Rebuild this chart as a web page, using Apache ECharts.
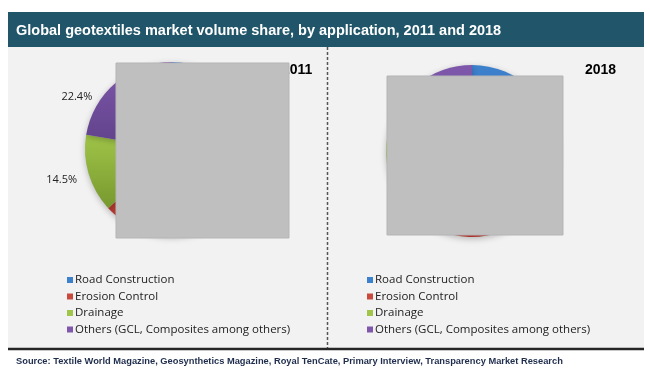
<!DOCTYPE html>
<html><head><meta charset="utf-8">
<script src="https://cdn.jsdelivr.net/npm/echarts@6/dist/echarts.min.js"></script>
<style>html,body{margin:0;padding:0;background:#fff}#c{width:650px;height:383px}</style>
</head><body><div id="c"></div>
<script>
const categories = ['Road Construction', 'Erosion Control', 'Drainage', 'Others (GCL, Composites among others)'];
const values2011 = [36.5, 26.6, 14.5, 22.4];
const values2018 = [38.0, 25.0, 15.0, 22.0];
const labelsShown2011 = [false, false, true, true];
const yearLabels = ['2011', '2018'];
const titleText = 'Global geotextiles market volume share, by application, 2011 and 2018';
const sourceText = 'Source: Textile World Magazine, Geosynthetics Magazine, Royal TenCate, Primary Interview, Transparency Market Research';

const colorsTop = ['#3d80cc', '#c94a3c', '#a0c548', '#7f58ac'];
const colorsBot = ['#2f6db5', '#a8322a', '#77982f', '#5f4189'];
const labelShift = {2:[9,3], 3:[-6,22]};
function grad(i){
  return new echarts.graphic.LinearGradient(0,0,0,1,[{offset:0,color:colorsTop[i]},{offset:1,color:colorsBot[i]}]);
}
function buildData(vals, shown){
  return vals.map((v,i)=>({name:categories[i], value:v, itemStyle:{color:grad(i)},
    label:{show: shown ? shown[i] : false}}));
}
const chart = echarts.init(document.getElementById('c'));
const legendBase = {orient:'vertical', itemWidth:6, itemHeight:6, itemGap:4.5, icon:'rect',
  textStyle:{fontFamily:'Open Sans', fontSize:11.5, color:'#222', padding:[0,0,0,-3]}, selectedMode:false,
  data: categories.map((n,i)=>({name:n, itemStyle:{color:colorsTop[i]}}))};
const pieBase = {type:'pie', startAngle:90, clockwise:true, animation:false, silent:true,
  label:{position:'outside', formatter:p=>p.value.toFixed(1)+'%', fontFamily:'Open Sans', fontSize:11, color:'#222'},
  labelLine:{show:false, length:10, length2:6},
  itemStyle:{shadowBlur:6, shadowColor:'rgba(0,0,0,0.25)', shadowOffsetY:2}};
chart.setOption({
  animation:false,
  title:{text:titleText, left:11, top:18, textStyle:{color:'#fff', fontFamily:'Liberation Sans', fontWeight:'bold', fontSize:14.5}},
  legend:[
    Object.assign({}, legendBase, {left:62, top:269}),
    Object.assign({}, legendBase, {left:362, top:269})
  ],
  series:[
    Object.assign({}, pieBase, {center:[172,149], radius:87, data:buildData(values2011, labelsShown2011),
      labelLayout:p=>{const s=labelShift[p.dataIndex]; return s?{dx:s[0],dy:s[1]}:{};}}),
    Object.assign({}, pieBase, {center:[472,151], radius:86, data:buildData(values2018, null)})
  ],
  graphic:[
    {type:'rect', z:-10, shape:{x:8,y:12,width:636,height:35}, style:{fill:'#21566a'}},
    {type:'rect', z:-10, shape:{x:8,y:47,width:636,height:301}, style:{fill:'#f2f2f2'}},
    {type:'line', z:-5, shape:{x1:327.5,y1:47,x2:327.5,y2:352}, style:{stroke:'#555', lineWidth:1.5, lineDash:[3,2]}},
    {type:'line', z:-4, shape:{x1:8,y1:349,x2:644,y2:349}, style:{stroke:'#262626', lineWidth:2.5}},
    {type:'text', z:5, left:282, top:63, style:{text:yearLabels[0], font:'bold 14px Liberation Sans', fill:'#000'}},
    {type:'text', z:5, left:585, top:63, style:{text:yearLabels[1], font:'bold 14px Liberation Sans', fill:'#000'}},
    {type:'rect', z:100, shape:{x:116,y:63,width:173,height:175}, style:{fill:'#bfbfbf', stroke:'#b5b5b5', lineWidth:1}},
    {type:'rect', z:100, shape:{x:387,y:76,width:176,height:159}, style:{fill:'#bfbfbf', stroke:'#b5b5b5', lineWidth:1}},
    {type:'text', z:5, left:16, top:357, style:{text:sourceText, font:'bold 9.3px Liberation Sans', fill:'#1f2d4d'}}
  ]
});
</script></body></html>
